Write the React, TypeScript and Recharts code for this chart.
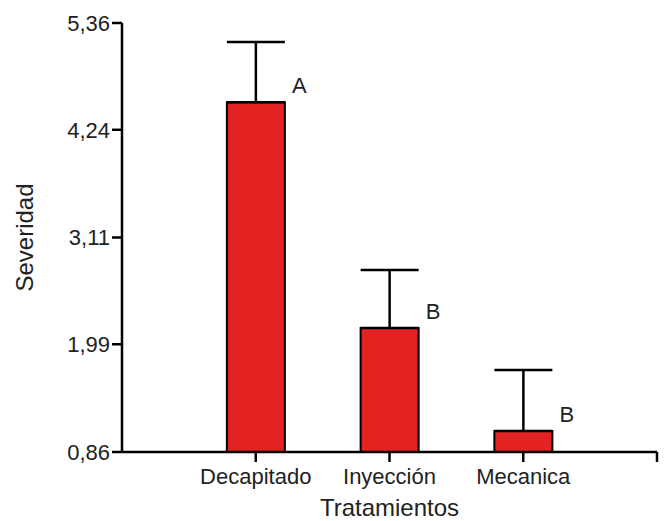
import { BarChart, Bar, XAxis, YAxis, ErrorBar, LabelList } from "recharts";

const categories = ["Decapitado", "Inyección", "Mecanica"];
const positions = [1, 2, 3];
const means = [4.53, 2.16, 1.08];
const upperErrors = [0.63, 0.61, 0.64];
const letters = ["A", "B", "B"];
const yTicks = [0.86, 1.99, 3.11, 4.24, 5.36];
const xTicks = [1, 2, 3, 4];

const data = categories.map((name, i) => ({
  name,
  pos: positions[i],
  mean: means[i],
  err: [0, upperErrors[i]],
  letter: letters[i],
}));

const FONT = "'Liberation Sans', Arial, sans-serif";
const TEXT = "#222";

function LetterLabel(props: any) {
  const { x, y, width, value } = props;
  return (
    <text
      x={x + width + 7}
      y={y - 17}
      dy="0.36em"
      fontSize={22}
      fontFamily={FONT}
      fill={TEXT}
    >
      {value}
    </text>
  );
}

function YTitle(props: any) {
  const { viewBox } = props;
  const cx = viewBox.x + 24;
  const cy = viewBox.y + viewBox.height / 2;
  return (
    <text
      x={cx}
      y={cy}
      transform={`rotate(-90, ${cx}, ${cy})`}
      textAnchor="middle"
      dy="0.36em"
      fontSize={24}
      fontFamily={FONT}
      fill={TEXT}
    >
      Severidad
    </text>
  );
}

function XTitle(props: any) {
  const { viewBox } = props;
  return (
    <text
      x={viewBox.x + viewBox.width / 2}
      y={viewBox.y + 64}
      textAnchor="middle"
      fontSize={24}
      fontFamily={FONT}
      fill={TEXT}
    >
      Tratamientos
    </text>
  );
}

export default function App() {
  return (
    <div style={{ width: 665, height: 521, background: "#fff" }}>
      <style>{"body{margin:0;}"}</style>
      <BarChart
        width={665}
        height={521}
        data={data}
        margin={{ top: 23, right: 8, bottom: 0, left: 0 }}
      >
        <XAxis
          type="number"
          dataKey="pos"
          domain={[0, 4]}
          ticks={xTicks}
          tickFormatter={(v: number) => categories[v - 1] ?? ""}
          height={69}
          tickSize={10}
          tickMargin={6}
          axisLine={{ stroke: "#000", strokeWidth: 2.5 }}
          tickLine={{ stroke: "#000", strokeWidth: 2.5 }}
          tick={{ fontSize: 22, fontFamily: FONT, fill: TEXT }}
          label={{ content: XTitle }}
        />
        <YAxis
          type="number"
          domain={[0.86, 5.36]}
          ticks={yTicks}
          tickFormatter={(v: number) => v.toFixed(2).replace(".", ",")}
          width={122}
          tickSize={10}
          tickMargin={2}
          axisLine={{ stroke: "#000", strokeWidth: 2.5 }}
          tickLine={{ stroke: "#000", strokeWidth: 2.5 }}
          tick={{ fontSize: 22, fontFamily: FONT, fill: TEXT }}
          label={{ content: YTitle }}
        />
        <Bar
          dataKey="mean"
          barSize={58}
          fill="#e32322"
          stroke="#000"
          strokeWidth={2}
          isAnimationActive={false}
        >
          <ErrorBar
            dataKey="err"
            direction="y"
            width={29}
            stroke="#000"
            strokeWidth={2.5}
            isAnimationActive={false}
          />
          <LabelList dataKey="letter" content={LetterLabel} />
        </Bar>
      </BarChart>
    </div>
  );
}
